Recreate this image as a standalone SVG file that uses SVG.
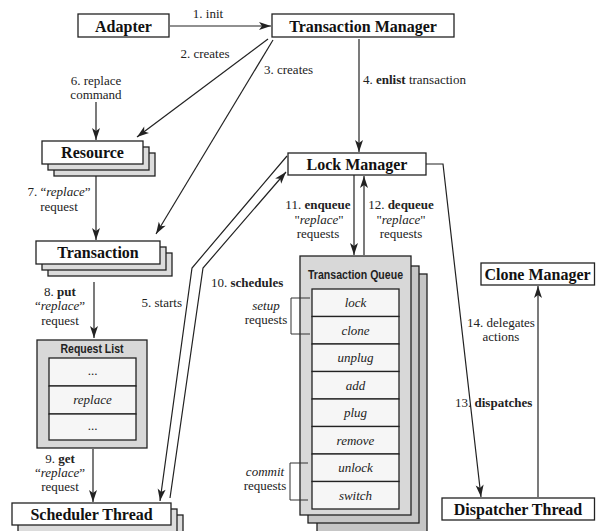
<svg xmlns="http://www.w3.org/2000/svg" width="596" height="531" viewBox="0 0 596 531">
<defs>
<style>
.box{fill:#fff;stroke:#222;stroke-width:1.3}
.sh{fill:#dcdcdc;stroke:#222;stroke-width:1.3}
.qf{fill:#d8d8d8;stroke:#222;stroke-width:1.3}
.qb{fill:#c6c6c6;stroke:#222;stroke-width:1.3}
.cell{fill:#f6f6f6;stroke:#222;stroke-width:1.3}
.t{font-family:'Liberation Serif',serif;font-size:16px;font-weight:bold;text-anchor:middle;fill:#111}
.l{font-family:'Liberation Serif',serif;font-size:13px;fill:#222}
.c{text-anchor:middle}
.e{text-anchor:end}
.i{font-style:italic}
.b{font-weight:bold}
.h{font-family:'Liberation Sans',sans-serif;font-size:12px;font-weight:bold;text-anchor:middle;fill:#222}
.ln{fill:none;stroke:#222;stroke-width:1.2}
.br{fill:none;stroke:#333;stroke-width:1}
</style>
<marker id="ah" markerUnits="userSpaceOnUse" viewBox="-13 -5 14 10" refX="0" refY="0" markerWidth="14" markerHeight="10" orient="auto">
<path d="M0,0 L-12,-4 L-9,0 L-12,4 Z" fill="#222"/>
</marker>
</defs>

<!-- nodes: white boxes with bold serif titles; stacked boxes have grey copies behind -->
<g id="adapter">
<rect class="box" x="78" y="14" width="91" height="23"/>
<text class="t" x="123.5" y="31.5">Adapter</text>
</g>
<g id="transaction-manager">
<rect class="box" x="272" y="14" width="182" height="23"/>
<text class="t" x="363" y="31.5">Transaction Manager</text>
</g>
<g id="resource">
<rect class="sh" x="54" y="153" width="101" height="23"/>
<rect class="sh" x="48" y="147" width="101" height="23"/>
<rect class="box" x="42" y="141" width="101" height="23"/>
<text class="t" x="92.5" y="158">Resource</text>
</g>
<g id="transaction">
<rect class="sh" x="48" y="253" width="124" height="23"/>
<rect class="sh" x="42" y="247" width="124" height="23"/>
<rect class="box" x="36" y="241" width="124" height="23"/>
<text class="t" x="98" y="258">Transaction</text>
</g>
<g id="request-list">
<rect class="qf" x="37" y="340" width="110" height="108"/>
<text class="h" x="92" y="353" textLength="63" lengthAdjust="spacingAndGlyphs">Request List</text>
<rect class="cell" x="49" y="358" width="87" height="28"/>
<rect class="cell" x="49" y="386" width="87" height="28"/>
<rect class="cell" x="49" y="414" width="87" height="26"/>
<text class="l c" x="92.5" y="375">...</text>
<text class="l c i" x="92.5" y="404">replace</text>
<text class="l c" x="92.5" y="430">...</text>
</g>
<g id="scheduler-thread">
<rect class="sh" x="24" y="515" width="159" height="23"/>
<rect class="sh" x="18" y="509" width="159" height="23"/>
<rect class="box" x="12" y="503" width="159" height="22"/>
<text class="t" x="91.5" y="520">Scheduler Thread</text>
</g>
<g id="lock-manager">
<rect class="box" x="288" y="153" width="138" height="22"/>
<text class="t" x="357" y="170">Lock Manager</text>
</g>
<g id="transaction-queue">
<rect class="qb" x="317" y="274" width="110" height="270"/>
<rect class="qb" x="308" y="266" width="111" height="257"/>
<rect class="qf" x="300" y="256" width="111" height="259"/>
<text class="h" x="355.5" y="279" textLength="95" lengthAdjust="spacingAndGlyphs">Transaction Queue</text>
<rect class="cell" x="312" y="289" width="87" height="27.5"/>
<rect class="cell" x="312" y="316.5" width="87" height="27.5"/>
<rect class="cell" x="312" y="344" width="87" height="27.5"/>
<rect class="cell" x="312" y="371.5" width="87" height="27.5"/>
<rect class="cell" x="312" y="399" width="87" height="27.5"/>
<rect class="cell" x="312" y="426.5" width="87" height="27.5"/>
<rect class="cell" x="312" y="454" width="87" height="27.5"/>
<rect class="cell" x="312" y="481.5" width="87" height="27.5"/>
<text class="l c i" x="355.5" y="307">lock</text>
<text class="l c i" x="355.5" y="334.5">clone</text>
<text class="l c i" x="355.5" y="362">unplug</text>
<text class="l c i" x="355.5" y="389.5">add</text>
<text class="l c i" x="355.5" y="417">plug</text>
<text class="l c i" x="355.5" y="444.5">remove</text>
<text class="l c i" x="355.5" y="472">unlock</text>
<text class="l c i" x="355.5" y="499.5">switch</text>
<path class="br" d="M310,298 H291 V334 H310"/>
<text class="l c i" x="266" y="310">setup</text>
<text class="l c" x="266" y="324">requests</text>
<path class="br" d="M308,463 H290 V500 H308"/>
<text class="l c i" x="265" y="476">commit</text>
<text class="l c" x="265" y="490">requests</text>
</g>
<g id="dispatcher-thread">
<rect class="box" x="442" y="498" width="152.5" height="22"/>
<text class="t" x="518" y="515">Dispatcher Thread</text>
</g>
<g id="clone-manager">
<rect class="box" x="481" y="263" width="113.5" height="22"/>
<text class="t" x="537.5" y="280">Clone Manager</text>
</g>

<!-- connectors with their step labels -->
<g id="connectors">
<path class="ln" d="M170,26 H271" marker-end="url(#ah)"/>
<text class="l c" x="208" y="18">1. init</text>

<path class="ln" d="M268,39 L137,137" marker-end="url(#ah)"/>
<text class="l c" x="205" y="58">2. creates</text>

<path class="ln" d="M273,40 L156,234" marker-end="url(#ah)"/>
<text class="l" x="264" y="74">3. creates</text>

<path class="ln" d="M359,39 V152" marker-end="url(#ah)"/>
<text class="l" x="363" y="84">4. <tspan class="b">enlist</tspan> transaction</text>

<path class="ln" d="M287,156 L192,268 L160,501" marker-end="url(#ah)"/>
<text class="l e" x="182" y="307">5. starts</text>

<path class="ln" d="M96,102 V140" marker-end="url(#ah)"/>
<text class="l c" x="96" y="85">6. replace</text>
<text class="l c" x="96" y="99">command</text>

<path class="ln" d="M96,176 V240" marker-end="url(#ah)"/>
<text class="l c" x="59" y="196">7. “<tspan class="i">replace</tspan>”</text>
<text class="l c" x="59" y="211">request</text>

<path class="ln" d="M94,282 V338" marker-end="url(#ah)"/>
<text class="l c" x="60" y="296">8. <tspan class="b">put</tspan></text>
<text class="l c" x="60" y="310">“<tspan class="i">replace</tspan>”</text>
<text class="l c" x="60" y="325">request</text>

<path class="ln" d="M93,449 V502" marker-end="url(#ah)"/>
<text class="l c" x="60" y="463">9. <tspan class="b">get</tspan></text>
<text class="l c" x="60" y="477">“<tspan class="i">replace</tspan>”</text>
<text class="l c" x="60" y="491">request</text>

<path class="ln" d="M170,498 L203,268 L286,172" marker-end="url(#ah)"/>
<text class="l" x="211" y="287">10. <tspan class="b">schedules</tspan></text>

<path class="ln" d="M354,175 V255" marker-end="url(#ah)"/>
<text class="l c" x="318" y="209">11. <tspan class="b">enqueue</tspan></text>
<text class="l c" x="319" y="223.5">"<tspan class="i">replace</tspan>"</text>
<text class="l c" x="318" y="238">requests</text>

<path class="ln" d="M364,255 V176" marker-end="url(#ah)"/>
<text class="l c" x="401" y="209">12. <tspan class="b">dequeue</tspan></text>
<text class="l c" x="401" y="223.5">"<tspan class="i">replace</tspan>"</text>
<text class="l c" x="401" y="238">requests</text>

<path class="ln" d="M426,164 H443 L481,497" marker-end="url(#ah)"/>
<text class="l" x="455" y="407">13. <tspan class="b">dispatches</tspan></text>

<path class="ln" d="M538,497 V286" marker-end="url(#ah)"/>
<text class="l c" x="501" y="327">14. delegates</text>
<text class="l c" x="501" y="341">actions</text>
</g>
</svg>
